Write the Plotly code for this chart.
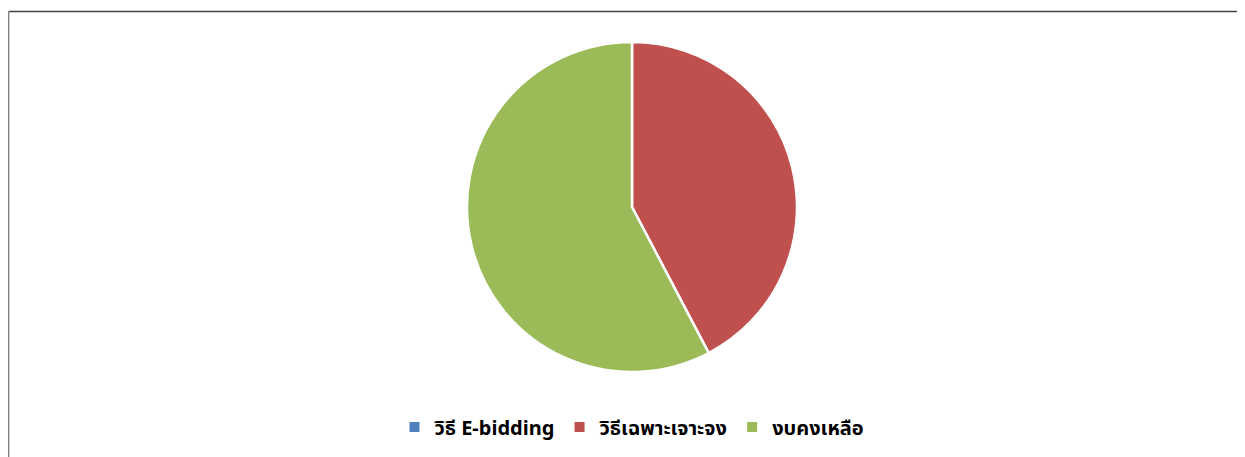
import plotly.graph_objects as go

labels = ["วิธี E-bidding", "วิธีเฉพาะเจาะจง", "งบคงเหลือ"]
values = [0, 42.3, 57.7]
colors = ["#4F81BD", "#C0504D", "#9BBB59"]

# page body has an 8px margin; size figure to fill the remaining window
W, H = 1237, 449
OFF = 8

def px_x(x):
    return (x - OFF) / W

def px_y(y):
    return 1 - (y - OFF) / H

fig = go.Figure(go.Pie(
    labels=labels, values=values, sort=False, direction="clockwise", rotation=0,
    marker=dict(colors=colors, line=dict(color="white", width=2.5)),
    textinfo="none", hoverinfo="label+percent",
    domain=dict(x=[px_x(467), px_x(797)], y=[px_y(372), px_y(42)]),
))

fig.update_layout(
    width=W, height=H,
    margin=dict(l=0, r=0, t=0, b=0),
    paper_bgcolor="white", plot_bgcolor="white",
    showlegend=True,
    legend=dict(orientation="h", x=px_x(632), xanchor="center", y=px_y(427), yanchor="middle",
                font=dict(family="Noto Sans, Noto Sans Thai, DejaVu Sans", size=20, color="#000",
                          weight="bold"),
                itemsizing="constant", traceorder="normal", itemwidth=30),
    shapes=[
        dict(type="line", xref="paper", yref="paper",
             x0=0.6 / W, x1=1.2, y0=1 - 3.5 / H, y1=1 - 3.5 / H,
             line=dict(color="#444444", width=1.5), layer="above"),
        dict(type="line", xref="paper", yref="paper",
             x0=0.6 / W, x1=0.6 / W, y0=-0.05, y1=1 - 3.5 / H,
             line=dict(color="#808080", width=1.5), layer="above"),
    ],
)

fig.write_html("out.html")
